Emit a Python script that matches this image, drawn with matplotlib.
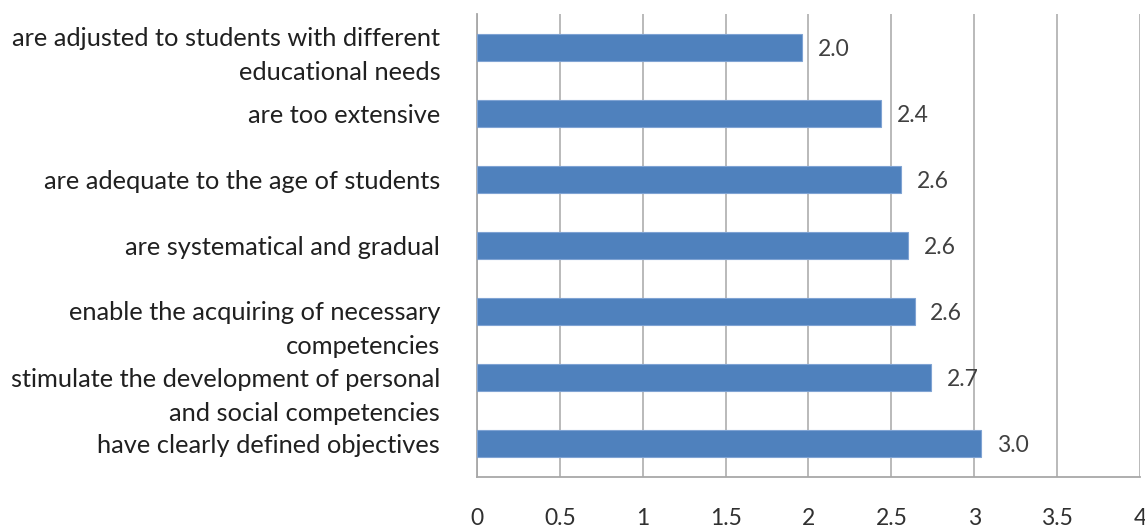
import matplotlib.pyplot as plt
import matplotlib.transforms as mtransforms

# Survey statements (top to bottom) and mean ratings
statements = [
    "are adjusted to students with different\neducational needs",
    "are too extensive",
    "are adequate to the age of students",
    "are systematical and gradual",
    "enable the acquiring of necessary\ncompetencies",
    "stimulate the development of personal\nand social competencies",
    "have clearly defined objectives",
]
ratings = [1.96, 2.44, 2.56, 2.60, 2.64, 2.74, 3.04]
x_ticks = [0, 0.5, 1, 1.5, 2, 2.5, 3, 3.5, 4]
x_tick_labels = ["0", "0.5", "1", "1.5", "2", "2.5", "3", "3.5", "4"]

plt.rcParams['font.family'] = ['Lato', 'DejaVu Sans']

fig = plt.figure(figsize=(11.45, 5.29), dpi=100)
ax = fig.add_axes([0.4166, 0.0983, 0.5790, 0.8752])

pos = list(range(len(statements)))
ax.barh(pos, ratings, height=0.41, color="#4F81BD", edgecolor="#7FA3D3",
        linewidth=0.8, zorder=3)

for p, v in zip(pos, ratings):
    ax.text(v + 0.095, p + 0.03, f"{v:.1f}", va="center", ha="left",
            fontsize=16.5, color="#404040")

ax.set_ylim(len(statements) - 0.5, -0.5)
ax.set_xlim(0, 4)
ax.set_xticks(x_ticks)
ax.set_xticklabels(x_tick_labels, fontsize=16.5, color="#303030")
ax.set_yticks(pos)
ax.set_yticklabels(statements, fontsize=18.3, color="#202020", ha="right",
                   linespacing=1.6)

ax.grid(axis="x", color="#B4B4B4", linewidth=1.3, zorder=0)
ax.tick_params(axis="x", length=0, pad=22)
ax.tick_params(axis="y", length=0, pad=26.5)
for side in ("top", "right"):
    ax.spines[side].set_visible(False)
for side in ("left", "bottom"):
    ax.spines[side].set_color("#A8A8A8")
    ax.spines[side].set_linewidth(1.3)

# shift the wrapped labels down a little
shifts = [1, 0, 0, 0, 10, 11, 0]
for lab, dy in zip(ax.get_yticklabels(), shifts):
    lab.set_transform(lab.get_transform() +
                      mtransforms.ScaledTranslation(0, -dy / 100, fig.dpi_scale_trans))

fig.savefig("out.png", dpi=100)
